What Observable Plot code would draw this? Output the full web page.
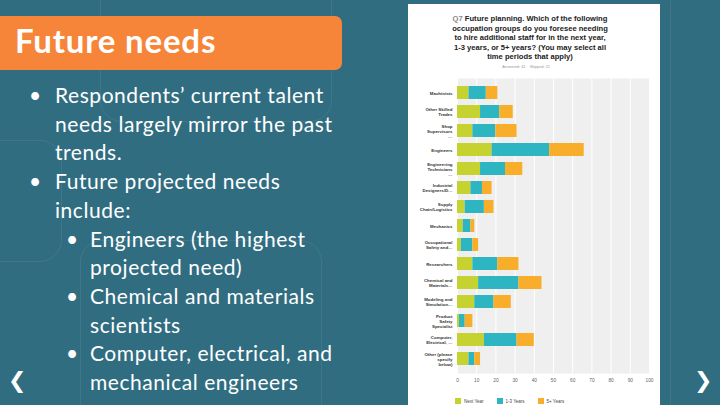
<!DOCTYPE html>
<html>
<head>
<meta charset="utf-8">
<script src="https://cdn.jsdelivr.net/npm/d3@7"></script>
<script src="https://cdn.jsdelivr.net/npm/@observablehq/plot@0.6"></script>
<style>
  html, body { margin: 0; padding: 0; }
  body { width: 720px; height: 405px; overflow: hidden; background: #316d81; position: relative; font-family: Lato, "Open Sans", sans-serif; }
  .bgline { position: absolute; border: 1px solid rgba(255,255,255,0.07); border-radius: 22px; }
  #titlebox { position: absolute; left: 0; top: 16px; width: 342px; height: 54px; background: #f6853a; border-radius: 0 7px 7px 0; }
  #titlebox span { position: absolute; left: 15px; top: 4px; color: #fff; font-weight: 700; font-size: 33px; letter-spacing: 0.8px; }
  #bullets { position: absolute; left: 0; top: 81px; color: #fff; font-size: 21px; line-height: 28.7px; letter-spacing: 0.55px; }
  #bullets .l1 { position: relative; padding-left: 55px; }
  #bullets .l2 { position: relative; padding-left: 90px; }
  #bullets .l1::before { content: "•"; position: absolute; left: 29px; }
  #bullets .l2::before { content: "•"; position: absolute; left: 66px; }
  .nav { position: absolute; top: 368px; color: #fff; font-size: 22px; font-weight: 700; font-family: "DejaVu Sans", sans-serif; }
  #panel { position: absolute; left: 408px; top: 4px; width: 252px; height: 401px; background: #fff; overflow: hidden; }
  #qtitle { position: absolute; left: 17px; width: 210px; top: 10px; text-align: center; font-family: "Liberation Sans", Arial, sans-serif; font-weight: 700; font-size: 7.6px; line-height: 9.5px; color: #222; }
  #qtitle .q { color: #888; }
  #answered { position: absolute; left: 78px; width: 80px; top: 61px; text-align: center; font-family: "Liberation Sans", Arial, sans-serif; font-size: 3.8px; color: #999; }
  #chart { position: absolute; left: 0; top: 70px; }
  #legend { position: absolute; left: 47px; top: 394px; display: flex; font-family: "Liberation Sans", Arial, sans-serif; font-size: 4.5px; color: #444; }
  #legend .item { display: flex; align-items: center; margin-right: 13px; }
  #legend .sw { width: 6px; height: 6px; margin-right: 3px; }
</style>
</head>
<body>
<div class="bgline" style="left:100px; top:-30px; width:230px; height:150px;"></div>
<div class="bgline" style="left:80px; top:240px; width:240px; height:200px;"></div>
<div class="bgline" style="left:-40px; top:140px; width:100px; height:120px;"></div>
<div class="bgline" style="left:670px; top:-20px; width:80px; height:450px;"></div>

<div id="titlebox"><span>Future needs</span></div>
<div id="bullets">
  <div class="l1">Respondents’ current talent<br>needs largely mirror the past<br>trends.</div>
  <div class="l1">Future projected needs<br>include:</div>
  <div class="l2">Engineers (the highest<br>projected need)</div>
  <div class="l2">Chemical and materials<br>scientists</div>
  <div class="l2">Computer, electrical, and<br>mechanical engineers</div>
</div>
<div class="nav" style="left:8px;">❮</div>
<div class="nav" style="left:694px;">❯</div>

<div id="panel">
  <div id="qtitle"><span class="q">Q7</span> Future planning. Which of the following<br>occupation groups do you foresee needing<br>to hire additional staff for in the next year,<br>1-3 years, or 5+ years? (You may select all<br>time periods that apply)</div>
  <div id="answered">Answered: 41 &nbsp;&nbsp; Skipped: 21</div>
  <div id="chart"></div>
  <div id="legend"></div>
</div>

<script>
const categories = [
  "Machinists",
  "Other Skilled\nTrades",
  "Shop\nSupervisors\n…",
  "Engineers",
  "Engineering\nTechnicians\n…",
  "Industrial\nDesigners/D…",
  "Supply\nChain/Logistics",
  "Mechanics",
  "Occupational\nSafety and…",
  "Researchers",
  "Chemical and\nMaterials…",
  "Modeling and\nSimulation…",
  "Product\nSafety\nSpecialist",
  "Computer,\nElectrical, …",
  "Other (please\nspecify\nbelow)"
];
const seriesNames = ["Next Year", "1-3 Years", "5+ Years"];
const seriesColors = ["#c6d230", "#2db6c1", "#f8ae2b"];
const nextYear   = [6, 12, 8, 18, 12, 7, 4, 3, 2, 8, 11, 9, 1, 14, 6];
const oneToThree = [9, 10, 12, 30, 13, 6, 10, 4, 6, 13, 21, 10, 3, 17, 3];
const fivePlus   = [6, 7, 11, 18, 9, 5, 5, 2, 3, 11, 12, 9, 4, 9, 3];
const xTicks = [0, 10, 20, 30, 40, 50, 60, 70, 80, 90, 100];

const seriesValues = [nextYear, oneToThree, fivePlus];
const rows = [];
seriesNames.forEach((s, si) => {
  categories.forEach((c, ci) => rows.push({category: c, series: s, value: seriesValues[si][ci]}));
});

const chart = Plot.plot({
  width: 252,
  height: 317,
  marginLeft: 49,
  marginRight: 11,
  marginTop: 4,
  marginBottom: 18,
  style: {fontFamily: "Liberation Sans, Arial, sans-serif", background: "transparent"},
  x: {domain: [0, 100], ticks: xTicks, label: null},
  y: {domain: categories, padding: 0.29, label: null},
  color: {domain: seriesNames, range: seriesColors},
  marks: [
    Plot.frame({fill: "#efefef", stroke: null}),
    Plot.gridX(xTicks, {stroke: "#fff", strokeOpacity: 1, strokeWidth: 1}),
    Plot.barX(rows, Plot.stackX({y: "category", x: "value", fill: "series", order: null})),
    Plot.axisX({ticks: xTicks, tickSize: 0, tickPadding: 5, fontSize: 4.8, fill: "#666", label: null}),
    Plot.axisY({tickSize: 0, tickPadding: 5, fontSize: 4.4, fontWeight: 700, fill: "#333", lineHeight: 1.15, label: null})
  ]
});
document.getElementById("chart").appendChild(chart);

const legend = d3.select("#legend");
seriesNames.forEach((s, i) => {
  const it = legend.append("div").attr("class", "item");
  it.append("div").attr("class", "sw").style("background", seriesColors[i]);
  it.append("span").text(s);
});
</script>
</body>
</html>
